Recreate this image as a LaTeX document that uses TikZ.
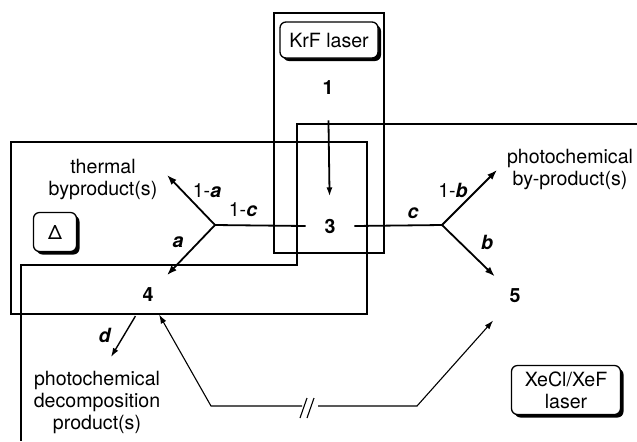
\documentclass[tikz,border=0pt]{standalone}
\usepackage{fontspec}
\setmainfont{TeX Gyre Heros}
\usetikzlibrary{arrows.meta,shadows}
\begin{document}
\begin{tikzpicture}[x=0.5pt,y=-0.5pt,
  every node/.style={font=\fontsize{9.8}{11}\selectfont, inner sep=0pt, align=center},
  frame/.style={line width=0.55pt},
  thick arrow/.style={line width=0.9pt, -{Latex[length=5pt,width=3.6pt]}},
  thin arrow/.style={line width=0.55pt, -{Latex[length=4.5pt,width=3pt]}},
  lasbox/.style={draw, line width=0.65pt, rounded corners=3pt, fill=white,
    drop shadow={shadow xshift=1.5pt, shadow yshift=-1.5pt, fill=black, opacity=1}},
  num/.style={font=\fontsize{9.8}{11}\selectfont\bfseries},
  lbl/.style={font=\fontsize{9.8}{11}\selectfont}
]
\useasboundingbox (0,0) rectangle (637,441);
% frames
\draw[frame] (274,13) rectangle (384,253);
\draw[frame] (11,142) rectangle (367,314);
\draw[frame] (637,124) -- (297,124) -- (297,265) -- (21,265) -- (21,441);
% laser boxes
\node[lasbox, minimum width=49pt, minimum height=18pt] (krf) at (329,40) {KrF laser};
\node[lasbox, minimum width=21.5pt, minimum height=19.5pt] (delta) at (55,232) {Δ};
\node[lasbox, minimum width=54.5pt, minimum height=24.5pt] (xecl) at (566,390) {XeCl/XeF\\laser};
% species
\node[num] (n1) at (328,88) {1};
\node[num, minimum width=24pt] (n3) at (330,226) {3};
\node[num] (n4) at (148,295) {4};
\node[num] (n5) at (515,296) {5};
\coordinate (bl) at (215,225);
\coordinate (br) at (442,225);
\coordinate (ta) at (167,175);
\coordinate (pb) at (497,170);
\coordinate (dd) at (111,357);
\coordinate (k1) at (211,406);
\coordinate (k2) at (302,406);
\coordinate (k3) at (318,406);
\coordinate (k4) at (417,406);
% products
\node (therm) at (103,179) {thermal\\byproduct(s)};
\node (pbp) at (570,169) {photochemical\\by-product(s)};
\node (pdp) at (97,402) {photochemical\\decomposition\\product(s)};
% connectors
\draw[thin arrow, line width=0.9pt, shorten <=12.5pt, shorten >=11pt] (n1) -- (n3);
\draw[line width=0.9pt] (bl) -- (n3.west);
\draw[line width=0.9pt] (n3.east) -- (br);
\draw[thick arrow] (bl) -- (ta);
\draw[thick arrow, shorten >=9.5pt] (bl) -- (n4);
\draw[thick arrow] (br) -- (pb);
\draw[thick arrow, shorten >=10pt] (br) -- (n5);
\draw[thin arrow, line width=0.7pt, shorten <=8pt] (n4) -- (dd);
\draw[thin arrow, shorten >=7pt] (k2) -- (k1) -- (n4);
\draw[thin arrow, shorten >=12pt] (k3) -- (k4) -- (n5);
\draw[line width=0.55pt] (300,418) -- (307,398);
\draw[line width=0.55pt] (307,418) -- (314,398);
% labels
\node[lbl] at (207,191) {1-\textbf{\textit{a}}};
\node[lbl] at (243,210) {1-\textbf{\textit{c}}};
\node[lbl] at (178,242) {\textbf{\textit{a}}};
\node[lbl] at (413,213) {\textbf{\textit{c}}};
\node[lbl] at (453,190) {1-\textbf{\textit{b}}};
\node[lbl] at (487,242) {\textbf{\textit{b}}};
\node[lbl] at (105,335) {\textbf{\textit{d}}};
\end{tikzpicture}
\end{document}
